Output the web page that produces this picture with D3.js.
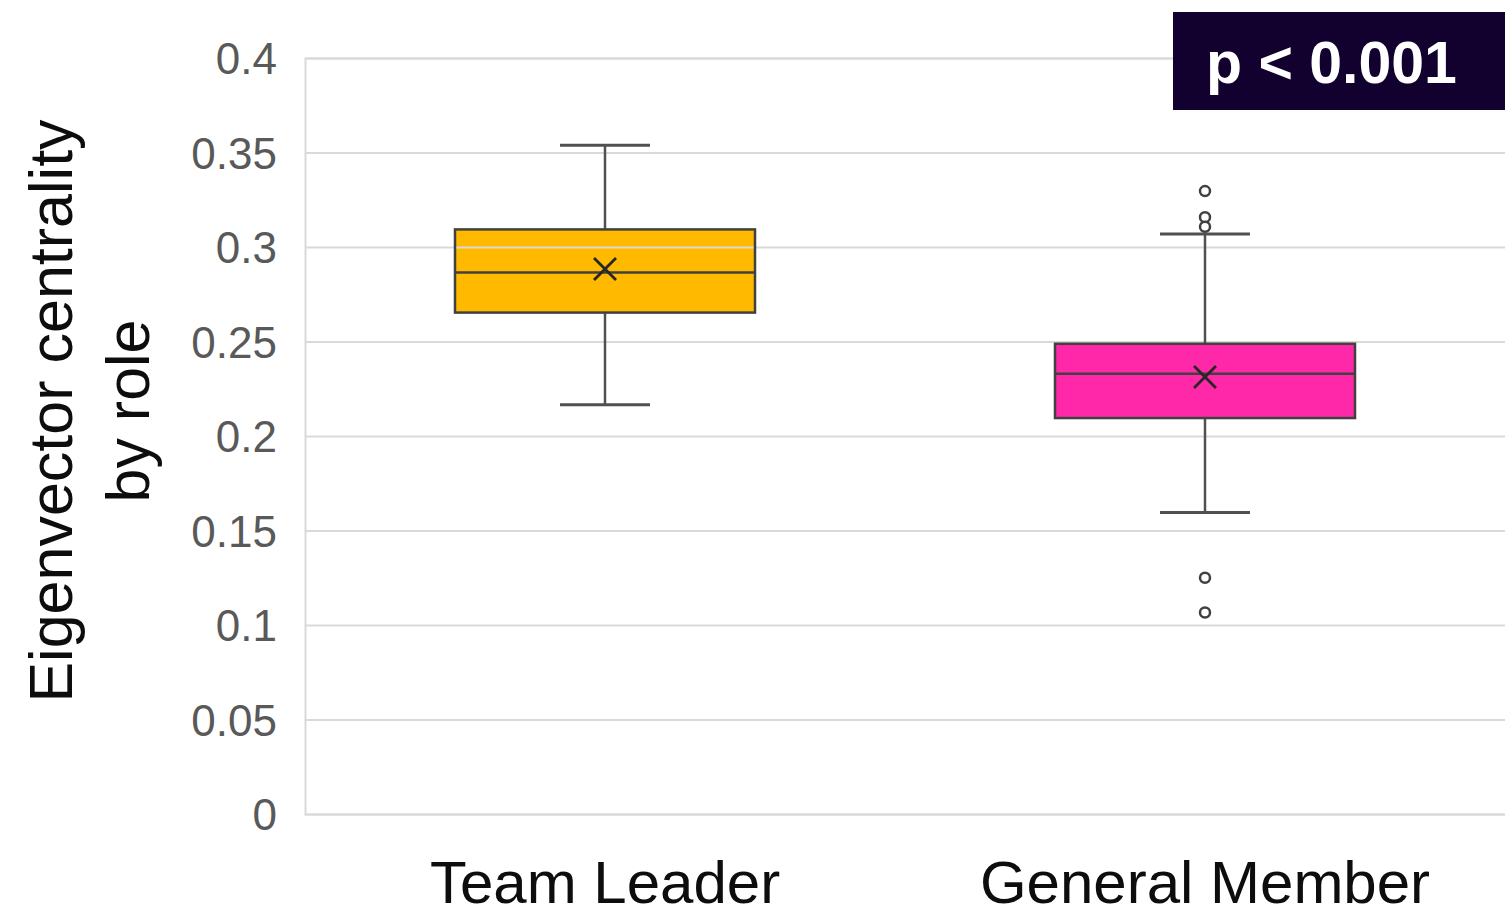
<!DOCTYPE html>
<html>
<head>
<meta charset="utf-8">
<script src="https://cdn.jsdelivr.net/npm/d3@7"></script>
<style>
  html, body { margin: 0; padding: 0; background: #ffffff; }
  svg { display: block; font-family: "Liberation Sans", Arial, sans-serif; }
</style>
</head>
<body>
<svg id="chart" width="1505" height="916"></svg>
<script>
// Box-plot summaries per role
const categories   = ["Team Leader", "General Member"];
const boxColors    = ["#FFBA00", "#FF28A8"];
const whiskerLow   = [0.2166, 0.1595];
const q1           = [0.2653, 0.2095];
const medians      = [0.2865, 0.2330];
const q3           = [0.3093, 0.2488];
const whiskerHigh  = [0.3539, 0.3069];
const means        = [0.2883, 0.2312];
// Outlying observations (role, value)
const outlierRoles  = ["General Member", "General Member", "General Member", "General Member", "General Member"];
const outlierValues = [0.3296, 0.3158, 0.3107, 0.1250, 0.1066];
// Axis ticks
const yTicks      = [0, 0.05, 0.1, 0.15, 0.2, 0.25, 0.3, 0.35, 0.4];
const yTickLabels = ["0", "0.05", "0.1", "0.15", "0.2", "0.25", "0.3", "0.35", "0.4"];
const pLabel = "p < 0.001";
const yTitleLines = ["Eigenvector centrality", "by role"];

const svg = d3.select("#chart");
const plotLeft = 305, plotRight = 1505, plotTop = 58, plotBottom = 814;

const x = d3.scaleBand().domain(categories).range([plotLeft, plotRight]).padding(0);
const y = d3.scaleLinear().domain([0, 0.4]).range([plotBottom, plotTop]);

const boxW = x.bandwidth() * 0.5;
const capW = x.bandwidth() * 0.15;
const ink = "#404040";

const rows = categories.map((c, i) => ({
  cat: c, color: boxColors[i], lo: whiskerLow[i], q1: q1[i], med: medians[i],
  q3: q3[i], hi: whiskerHigh[i], mean: means[i]
}));
const cx = d => x(d.cat) + x.bandwidth() / 2;

// Box fills sit beneath the gridlines
svg.append("g").selectAll("rect").data(rows).join("rect")
  .attr("x", d => cx(d) - boxW / 2)
  .attr("y", d => y(d.q3))
  .attr("width", boxW)
  .attr("height", d => y(d.q1) - y(d.q3))
  .attr("fill", d => d.color);

// Gridlines and y axis
const yAxis = d3.axisLeft(y).tickValues(yTicks)
  .tickSize(-(plotRight - plotLeft))
  .tickFormat((d, i) => yTickLabels[i]);
const gy = svg.append("g").attr("transform", `translate(${plotLeft},0)`).call(yAxis);
gy.select(".domain").attr("stroke", "#d9d9d9").attr("stroke-width", 2);
gy.selectAll(".tick line").attr("stroke", "#d9d9d9").attr("stroke-width", 2);
gy.selectAll(".tick text")
  .attr("x", -28)
  .attr("dy", "0.36em")
  .attr("fill", "#595959")
  .attr("font-size", 44)
  .attr("font-family", "'Liberation Sans', Arial, sans-serif");

// Whiskers, caps, box outlines, medians, means
const g = svg.append("g");
rows.forEach(d => {
  const c = cx(d);
  g.append("line").attr("x1", c).attr("x2", c).attr("y1", y(d.hi)).attr("y2", y(d.q3))
    .attr("stroke", "#505050").attr("stroke-width", 2.5);
  g.append("line").attr("x1", c).attr("x2", c).attr("y1", y(d.q1)).attr("y2", y(d.lo))
    .attr("stroke", "#505050").attr("stroke-width", 2.5);
  [d.hi, d.lo].forEach(v => {
    g.append("line").attr("x1", c - capW / 2).attr("x2", c + capW / 2)
      .attr("y1", y(v)).attr("y2", y(v))
      .attr("stroke", "#505050").attr("stroke-width", 3);
  });
  g.append("rect").attr("x", c - boxW / 2).attr("y", y(d.q3))
    .attr("width", boxW).attr("height", y(d.q1) - y(d.q3))
    .attr("fill", "none").attr("stroke", ink).attr("stroke-width", 2.5);
  g.append("line").attr("x1", c - boxW / 2).attr("x2", c + boxW / 2)
    .attr("y1", y(d.med)).attr("y2", y(d.med))
    .attr("stroke", ink).attr("stroke-width", 2.5);
  const m = 11, my = y(d.mean);
  g.append("path")
    .attr("d", `M${c - m},${my - m}L${c + m},${my + m}M${c - m},${my + m}L${c + m},${my - m}`)
    .attr("stroke", "#262626").attr("stroke-width", 2.8).attr("fill", "none");
});

// Outliers
g.selectAll("circle.out").data(outlierValues).join("circle")
  .attr("class", "out")
  .attr("cx", (v, i) => x(outlierRoles[i]) + x.bandwidth() / 2)
  .attr("cy", v => y(v))
  .attr("r", 5)
  .attr("fill", "#ffffff")
  .attr("stroke", ink)
  .attr("stroke-width", 2.5);

// Category labels
svg.append("g").selectAll("text").data(categories).join("text")
  .attr("x", d => x(d) + x.bandwidth() / 2)
  .attr("y", 903)
  .attr("text-anchor", "middle")
  .attr("font-size", 60)
  .attr("fill", "#0d0d0d")
  .text(d => d);

// Y axis title, two lines
const titleX = [72, 149];
svg.append("g").selectAll("text").data(yTitleLines).join("text")
  .attr("transform", (d, i) => `translate(${titleX[i]},411) rotate(-90)`)
  .attr("text-anchor", "middle")
  .attr("font-size", 61)
  .attr("fill", "#0d0d0d")
  .text(d => d);

// Significance badge
const badge = svg.append("g");
badge.append("rect").attr("x", 1173).attr("y", 12).attr("width", 340).attr("height", 98)
  .attr("fill", "#12002e");
badge.append("text").attr("x", 1206).attr("y", 83)
  .attr("font-size", 59).attr("font-weight", "bold")
  .attr("fill", "#ffffff")
  .text(pLabel);
</script>
</body>
</html>
